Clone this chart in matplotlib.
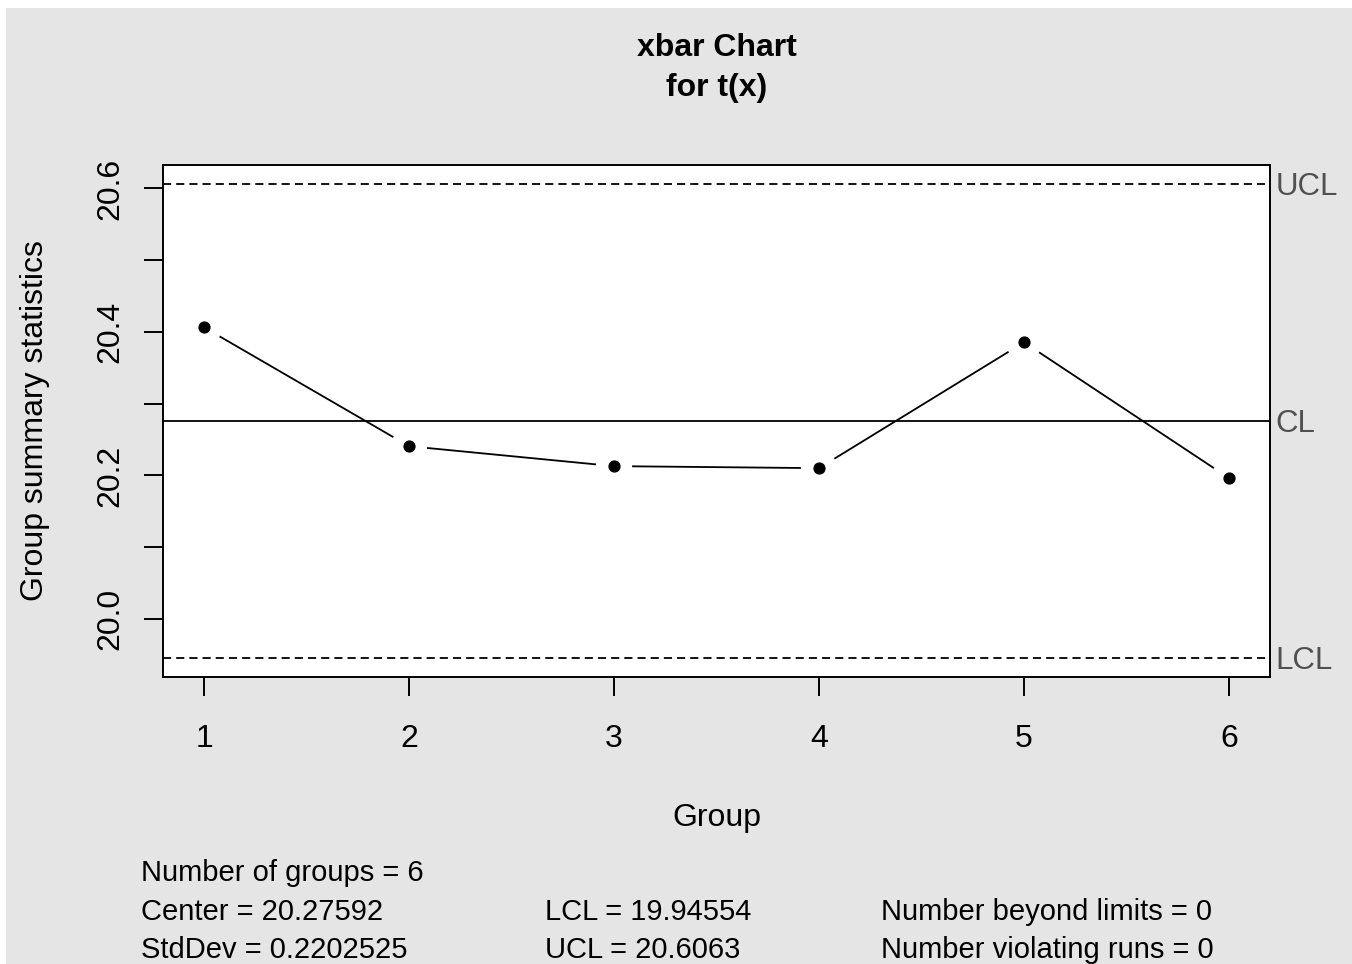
import numpy as np
import matplotlib.pyplot as plt
from matplotlib.patches import Rectangle

plt.rcParams['font.family'] = ['Liberation Sans', 'DejaVu Sans']

groups = [1, 2, 3, 4, 5, 6]
group_means = [20.4065, 20.2408, 20.2130, 20.2102, 20.3856, 20.1963]
center = 20.27592
lcl = 19.94554
ucl = 20.6063
stddev = 0.2202525
n_beyond = 0
n_runs = 0

W, H = 1352, 964
fig = plt.figure(figsize=(W / 100, H / 100), dpi=100)
fig.patch.set_facecolor('white')
fig.patches.append(Rectangle((6 / W, 0), 1, 1 - 8 / H, transform=fig.transFigure,
                             facecolor='#e5e5e5', edgecolor='none', zorder=-10))

ax = fig.add_axes([163 / W, 1 - 677 / H, (1270 - 163) / W, (677 - 165) / H])
ax.set_facecolor('white')

# R-style ranges (4% extension)
xr = max(groups) - min(groups)
ax.set_xlim(min(groups) - 0.04 * xr, max(groups) + 0.04 * xr)
lo = min(min(group_means), lcl)
hi = max(max(group_means), ucl)
ax.set_ylim(lo - 0.04 * (hi - lo), hi + 0.04 * (hi - lo))

lw = 1.3
ax.axhline(center, color='black', lw=lw)
ax.axhline(ucl, color='black', lw=lw, dashes=(4.5, 2.8))
ax.axhline(lcl, color='black', lw=lw, dashes=(4.5, 2.8))

# points with gaps in connecting lines (type = "b")
ax.plot(groups, group_means, 'o', color='black', ms=7.8, zorder=5)
pts = ax.transData.transform(np.column_stack([groups, group_means]))
gap = 19
inv = ax.transData.inverted()
for p, q in zip(pts[:-1], pts[1:]):
    d = q - p
    L = np.hypot(*d)
    if L <= 2 * gap:
        continue
    u = d / L
    seg = inv.transform(np.array([p + u * gap, q - u * gap]))
    ax.plot(seg[:, 0], seg[:, 1], color='black', lw=lw)

for s in ax.spines.values():
    s.set_linewidth(1.4)

ax.set_xticks(groups)
ax.set_xticklabels([str(g) for g in groups])
yt = [20.0, 20.1, 20.2, 20.3, 20.4, 20.5, 20.6]
ax.set_yticks(yt)
ax.set_yticklabels([f'{v:.1f}' if i % 2 == 0 else '' for i, v in enumerate(yt)],
                   rotation=90, va='center')
ax.tick_params(axis='x', length=14, width=1.4, pad=20, labelsize=23)
ax.tick_params(axis='y', length=14, width=1.4, pad=13, labelsize=23)

ax.set_xlabel('Group', fontsize=23, labelpad=35)
ax.set_ylabel('Group summary statistics', fontsize=23, labelpad=33)

fig.text(717 / W, 1 - 48 / H, 'xbar Chart', ha='center', va='center',
         fontsize=23, fontweight='bold')
fig.text(717 / W, 1 - 88 / H, 'for t(x)', ha='center', va='center',
         fontsize=23, fontweight='bold')

for lab, val in [('UCL', ucl), ('CL', center), ('LCL', lcl)]:
    ax.annotate(lab, (1.0, val), xycoords=ax.get_yaxis_transform(),
                xytext=(4, -2), textcoords='offset points', ha='left',
                va='center', fontsize=22.5, color='#505050', annotation_clip=False)

stats = [
    (141, 873, f'Number of groups = {len(groups)}'),
    (141, 912, f'Center = {center}'),
    (141, 950, f'StdDev = {stddev}'),
    (545, 912, f'LCL = {lcl}'),
    (545, 950, f'UCL = {ucl}'),
    (881, 912, f'Number beyond limits = {n_beyond}'),
    (881, 950, f'Number violating runs = {n_runs}'),
]
for x, y, t in stats:
    fig.text(x / W, 1 - y / H, t, ha='left', va='center', fontsize=21)

fig.savefig('out.png', dpi=100)
